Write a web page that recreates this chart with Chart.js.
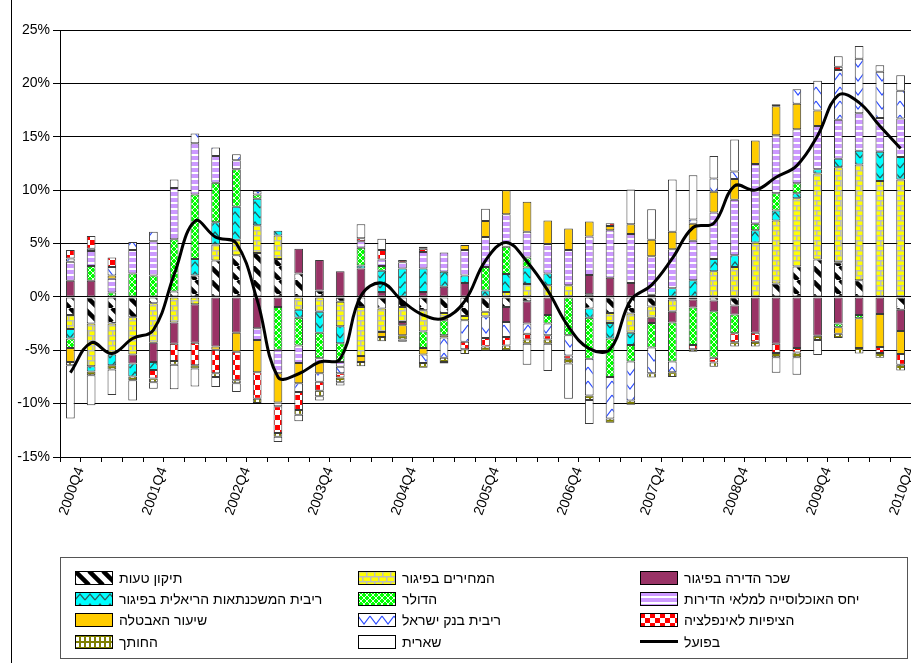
<!DOCTYPE html>
<html lang="he">
<head>
<meta charset="utf-8">
<title>פירוק השינוי במחירי הדירות</title>
<script src="https://cdn.jsdelivr.net/npm/chart.js@4.4.1/dist/chart.umd.min.js"></script>
<style>
  html, body { margin: 0; padding: 0; background: #fff; }
  #page { position: relative; width: 911px; height: 663px; overflow: hidden;
          font-family: "Liberation Sans", Arial, sans-serif; }
  #frame { position: absolute; left: 11px; top: 0; width: 1px; height: 663px; background: #000; }
  #plot { position: absolute; left: 0; top: 0; width: 911px; height: 545px; }
  #legend { position: absolute; left: 60px; top: 557px; width: 848px; height: 102px;
            border: 1px solid #555; box-sizing: border-box;
            display: grid; grid-template-columns: 283px 282px 282px;
            grid-template-rows: repeat(4, 21.3px); grid-auto-flow: column;
            padding: 9px 0 0 14px; }
  .item { display: flex; align-items: center; font-size: 14px; color: #000; white-space: nowrap; }
  .item canvas { margin-right: 6px; }
</style>
</head>
<body>
<div id="page">
  <div id="frame"></div>
  <div id="plot"><canvas id="chart"></canvas></div>
  <div id="legend"></div>
</div>
<script>
const quarters = ['2000Q4',
  '2001Q1','2001Q2','2001Q3','2001Q4','2002Q1','2002Q2','2002Q3','2002Q4',
  '2003Q1','2003Q2','2003Q3','2003Q4','2004Q1','2004Q2','2004Q3','2004Q4',
  '2005Q1','2005Q2','2005Q3','2005Q4','2006Q1','2006Q2','2006Q3','2006Q4',
  '2007Q1','2007Q2','2007Q3','2007Q4','2008Q1','2008Q2','2008Q3','2008Q4',
  '2009Q1','2009Q2','2009Q3','2009Q4','2010Q1','2010Q2','2010Q3','2010Q4'];

// contributions, percentage points
const errorCorr = [-1.7,-2.5,-2.5,-1.9,-0.6,0.5,2.0,3.4,3.9,4.1, 3.55,2.2,0.6,-0.45,-0.95,-1.1,-0.95,-1.25,-1.5,-1.8,
  -1.4,-0.95,-0.4,0,0,-1.1,-1.5,-1.55,-0.9,-0.25, -0.25,-0.35,-0.8,0,1.25,2.85,3.5,3.25,1.55,0,-1.2];
const lagPrices = [-1.3,-4.0,-2.9,-3.5,-3.7,-2.4,-0.7,1.5,1.45,2.6, 2.2,-1.2,-1.4,-2.3,-4.6,-2.2,-1.4,-2.0,-0.7,-0.4,
  -0.45,0.45,1.2,1.1,1.1,0.25,-0.95,-1.8,-1.05,-1.15, 0,2.4,2.8,5.1,5.9,6.4,8.05,8.9,10.85,10.85,11.0];
const lagRent = [1.5,1.5,0,-0.85,-1.8,-2.0,-3.6,-4.65,-3.35,-2.95, -0.95,2.3,2.85,2.4,2.65,0.45,-0.3,0.45,0.95,1.3,
  0,-1.4,-2.1,-1.7,0,1.8,1.8,1.3,-0.5,-1.0, -0.75,-1.0,-0.85,-3.35,-4.4,-4.8,-3.65,-2.5,-1.7,-1.6,-2.0];
const mortgageRate = [-0.9,-0.5,-1.0,-1.2,-0.75,0,1.55,2.1,3.1,2.5, 0.45,-0.75,-1.95,-1.6,0.3,2.0,2.65,2.2,1.4,0.7,
  0.6,1.7,1.55,1.1,0,-0.85,-1.45,-1.15,0.2,0.8, 1.55,1.15,1.1,1.15,0.95,0.45,0.4,0.8,1.3,2.75,2.1];
const dollar = [-0.9,1.4,0.4,2.2,2.0,4.9,6.05,3.7,3.5,0.4, -4.0,-2.6,-2.4,-1.75,1.65,0.45,0,-1.55,-1.4,0,
  2.2,2.55,0.95,-0.8,-3.6,-3.85,-3.6,-1.55,-2.3,-3.65, -3.5,-4.35,-1.75,0.6,1.6,0.95,0,-0.35,-0.3,0,0];
const population = [1.8,1.4,1.3,2.2,3.2,4.8,4.8,2.5,0.85,-1.1, -2.2,-1.65,-0.4,-0.45,0.6,0.6,0.6,1.55,1.8,2.4,
  2.8,3.05,2.4,2.75,3.3,3.6,4.45,4.6,3.6,3.65, 3.7,4.35,5.2,5.6,5.45,5.05,4.05,3.65,3.5,3.15,3.6];
const unemployment = [-1.3,0,0.3,0,0,0,0,-0.3,-1.8,-3.0, -2.75,-1.9,-1.0,0,-0.55,-0.45,-0.95,-0.6,-0.2,0.45,
  1.5,2.25,2.8,2.2,2.0,1.4,0.4,0.9,1.55,1.65, 1.6,1.95,1.95,2.2,2.7,2.4,1.45,-0.6,-2.8,-3.1,-2.15];
const boiRate = [0.3,0.2,0.8,0.75,0.9,0.8,0.9,0.8,0.55,0.35, -0.35,-0.8,-0.8,-0.6,0,0,0,-0.8,-1.9,-2.0,
  -2.0,-1.4,-0.95,-1.1,-1.9,-3.45,-3.9,-3.65,-2.4,-1.0, 0.4,1.25,0.7,0,0.2,1.35,2.8,4.65,5.1,4.35,2.6];
const inflationExp = [0.8,1.2,0.9,0,-0.8,-1.6,-2.1,-2.2,-2.65,-2.5, -2.5,-1.7,-0.85,-0.4,0.3,0.9,0.2,0.3,0,-0.7,
  -0.8,-0.8,-0.55,-0.4,-0.3,0,0.25,0,0,0, -0.4,-0.45,-0.85,-0.85,-0.85,-0.4,0,0.3,0,-0.55,-1.0];
const intercept = [-0.3,-0.35,-0.4,-0.35,-0.35,-0.35,-0.3,-0.35,-0.3,-0.4, -0.35,-0.45,-0.5,-0.45,-0.4,-0.4,-0.4,-0.45,-0.4,-0.45,
  -0.4,-0.45,-0.4,-0.4,-0.45,-0.4,-0.4,-0.4,-0.4,-0.45, -0.25,-0.4,-0.4,-0.45,-0.4,-0.45,-0.4,-0.4,-0.5,-0.45,-0.55];
const residual = [-5.0,-2.8,-2.4,-1.9,-0.6,-2.3,-1.7,-0.95,-0.8,0, -0.5,-0.6,-0.4,-0.3,1.3,1.05,-0.2,0.2,-0.15,0,
  1.15,0,-1.95,-2.55,-3.3,-2.25,0,3.25,2.85,4.9, 4.15,2.1,3.0,0,-1.45,-1.65,-1.4,1.0,1.2,0.6,1.45];
const actual = [-7.1,-4.3,-5.3,-3.9,-3.1,2.1,7.1,5.6,5.0,-0.3, -7.5,-7.2,-6.1,-5.8,0.1,1.3,-0.4,-1.7,-2.0,-0.4,
  3.4,5.1,3.3,0.6,-2.8,-4.85,-4.9,-0.3,1.1,3.6, 6.5,6.9,10.4,10.0,11.2,12.3,15.1,18.9,18.2,16.0,13.9];

const FONT = '"Liberation Sans", Arial, sans-serif';
const canvas = document.getElementById('chart');
const ctx = canvas.getContext('2d');

// small repeating tiles for the hatched fills
function makeTile(w, h, paint) {
    const c = document.createElement('canvas');
    c.width = w;
    c.height = h;
    paint(c.getContext('2d'), w, h);
    return ctx.createPattern(c, 'repeat');
}

const fills = {
    error: makeTile(14, 14, (g, w, h) => {
        g.fillStyle = '#fff'; g.fillRect(0, 0, w, h);
        g.strokeStyle = '#000'; g.lineWidth = 4.5;
        for (const k of [-w, 0, w]) { g.beginPath(); g.moveTo(k, 0); g.lineTo(k + w, h); g.stroke(); }
    }),
    prices: makeTile(8, 10, (g, w, h) => {
        g.fillStyle = '#ffff00'; g.fillRect(0, 0, w, h);
        g.fillStyle = '#bdbdbd';
        g.fillRect(0, 0, w, 1.5); g.fillRect(0, 5, w, 1.5);
        g.fillRect(0, 0, 1.5, 5); g.fillRect(4, 5, 1.5, 5);
    }),
    rent: '#993366',
    mortgage: makeTile(10, 10, (g, w, h) => {
        g.fillStyle = '#00ffff'; g.fillRect(0, 0, w, h);
        g.strokeStyle = '#2a5d5d'; g.lineWidth = 1.2;
        g.beginPath(); g.moveTo(0, 8); g.lineTo(5, 2); g.lineTo(10, 8); g.stroke();
    }),
    dollar: makeTile(6, 6, (g, w, h) => {
        g.fillStyle = '#00ff00'; g.fillRect(0, 0, w, h);
        g.strokeStyle = '#e8ffe8'; g.lineWidth = 1;
        g.beginPath(); g.moveTo(0, 0); g.lineTo(w, h); g.moveTo(w, 0); g.lineTo(0, h); g.stroke();
    }),
    population: makeTile(4, 6, (g, w, h) => {
        g.fillStyle = '#cc99ff'; g.fillRect(0, 0, w, h);
        g.fillStyle = '#ffffff'; g.fillRect(0, 4, w, 2);
    }),
    unemployment: '#ffcc00',
    boi: makeTile(12, 14, (g, w, h) => {
        g.fillStyle = '#fff'; g.fillRect(0, 0, w, h);
        g.strokeStyle = '#2b4bff'; g.lineWidth = 1.2;
        g.beginPath(); g.moveTo(0, 3); g.lineTo(6, 11); g.lineTo(12, 3); g.stroke();
    }),
    inflation: makeTile(10, 10, (g, w, h) => {
        g.fillStyle = '#fff'; g.fillRect(0, 0, w, h);
        g.fillStyle = '#ff0000'; g.fillRect(0, 0, 5, 5); g.fillRect(5, 5, 5, 5);
    }),
    intercept: makeTile(5, 6, (g, w, h) => {
        g.fillStyle = '#808000'; g.fillRect(0, 0, w, h);
        g.fillStyle = '#ffffff'; g.fillRect(1, 2, 3, 4);
    }),
    residual: '#ffffff'
};

function barSet(label, data, fill) {
    return {
        type: 'bar', label, data,
        backgroundColor: fill,
        borderColor: '#3a3a3a', borderWidth: 1, borderSkipped: false,
        barPercentage: 0.42, categoryPercentage: 1.0
    };
}

// stacking order of the components
const datasets = [
    barSet('תיקון טעות', errorCorr, fills.error),
    barSet('המחירים בפיגור', lagPrices, fills.prices),
    barSet('שכר הדירה בפיגור', lagRent, fills.rent),
    barSet('ריבית המשכנתאות הריאלית בפיגור', mortgageRate, fills.mortgage),
    barSet('הדולר', dollar, fills.dollar),
    barSet('יחס האוכלוסייה למלאי הדירות', population, fills.population),
    barSet('שיעור האבטלה', unemployment, fills.unemployment),
    barSet('ריבית בנק ישראל', boiRate, fills.boi),
    barSet('הציפיות לאינפלציה', inflationExp, fills.inflation),
    barSet('החותך', intercept, fills.intercept),
    barSet('שארית', residual, fills.residual),
    {
        type: 'line', label: 'בפועל', data: actual,
        borderColor: '#000', borderWidth: 3, pointRadius: 0,
        tension: 0.4, fill: false, order: -1
    }
];

const chart = new Chart(canvas, {
    data: { labels: quarters, datasets },
    options: {
        responsive: true,
        maintainAspectRatio: false,
        animation: false,
        layout: { autoPadding: false, padding: { left: 0, right: 0, top: 30, bottom: 0 } },
        plugins: { legend: { display: false }, tooltip: { enabled: false } },
        scales: {
            x: {
                stacked: true,
                // fixed axis band; the rotated labels should not shrink the plot
                afterFit: (s) => { s.height = 88; s.paddingLeft = 0; s.paddingRight = 0; },
                grid: { drawOnChartArea: false, tickLength: 5, color: '#000', offset: true },
                border: { color: '#000' },
                ticks: {
                    autoSkip: false, minRotation: 70, maxRotation: 70, labelOffset: 10,
                    color: '#000', font: { family: FONT, size: 14 },
                    callback: function (v, i) { return i % 4 === 0 ? this.getLabelForValue(v) : ''; }
                }
            },
            y: {
                stacked: true, min: -15, max: 25,
                afterFit: (s) => { s.width = 60; s.paddingTop = 0; s.paddingBottom = 0; },
                grid: { color: '#000', tickLength: 7 },
                border: { color: '#000' },
                ticks: {
                    stepSize: 5, padding: 3, color: '#000',
                    font: { family: FONT, size: 14 },
                    callback: (v) => v + '%'
                }
            }
        }
    }
});

// legend box, three columns
const legendOrder = [0, 3, 6, 9, 1, 4, 7, 10, 2, 5, 8, 11];
const legendEl = document.getElementById('legend');
legendOrder.forEach((idx) => {
    const ds = datasets[idx];
    const item = document.createElement('div');
    item.className = 'item';
    const sw = document.createElement('canvas');
    sw.width = 38; sw.height = 14;
    const g = sw.getContext('2d');
    if (ds.type === 'line') {
        g.fillStyle = '#000';
        g.fillRect(0, 5, 38, 3);
    } else {
        g.fillStyle = ds.backgroundColor;
        g.fillRect(0, 0, 38, 14);
        g.strokeStyle = '#000';
        g.lineWidth = 1;
        g.strokeRect(0.5, 0.5, 37, 13);
    }
    const txt = document.createElement('span');
    txt.dir = 'rtl';
    txt.textContent = ds.label;
    item.appendChild(sw);
    item.appendChild(txt);
    legendEl.appendChild(item);
});
</script>
</body>
</html>
